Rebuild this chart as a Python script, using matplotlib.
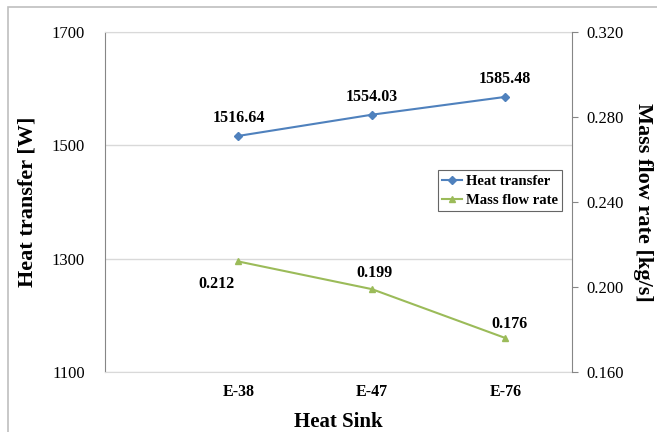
import numpy as np
import matplotlib.pyplot as plt
from matplotlib.patches import Rectangle

sinks = ['E-38', 'E-47', 'E-76']
heat = [1516.64, 1554.03, 1585.48]
mass = [0.212, 0.199, 0.176]
heat_labels = ['1516.64', '1554.03', '1585.48']
mass_labels = ['0.212', '0.199', '0.176']

plt.rcParams['font.family'] = 'Liberation Serif'

fig = plt.figure(figsize=(6.57, 4.32), dpi=100)
fig.patches.append(Rectangle((8/657, -0.1), 2, 1 - 7/432 + 0.1, transform=fig.transFigure,
                             fill=False, edgecolor='#bfbfbf', lw=1.2))
ax = fig.add_axes([105/657, 60/432, 467/657, 340/432])
ax2 = ax.twinx()

x = np.arange(1, len(sinks) + 1)

blue = '#4F81BD'
green = '#9BBB59'
l1, = ax.plot(x, heat, color=blue, marker='D', markersize=4, lw=1.5, label='Heat transfer')
l2, = ax2.plot(x, mass, color=green, marker='^', markersize=5, lw=1.5, label='Mass flow rate')

ax.set_xlim(0, 3.5)
ax.set_ylim(1100, 1700)
ax.set_yticks([1100, 1300, 1500, 1700])
ax2.set_ylim(0.16, 0.32)
ax2.set_yticks([0.16, 0.20, 0.24, 0.28, 0.32])
ax2.set_yticklabels(['0.160', '0.200', '0.240', '0.280', '0.320'])

ax.set_xticks(x)
ax.set_xticklabels(sinks, fontweight='bold', fontsize=11.5)
ax.tick_params(axis='x', length=0, pad=8.5)
ax.tick_params(axis='y', length=0, labelsize=12, pad=14.5)
ax2.tick_params(axis='y', length=4, color='#868686', labelsize=12, pad=6)

ax.grid(axis='y', color='#d9d9d9', lw=1)
for s in ['top', 'bottom']:
    ax.spines[s].set_color('#d9d9d9')
    ax2.spines[s].set_visible(False)
ax.spines['left'].set_color('#868686')
ax.spines['right'].set_visible(False)
ax2.spines['left'].set_visible(False)
ax2.spines['right'].set_color('#868686')

ax.set_xlabel('Heat Sink', fontweight='bold', fontsize=15)
ax.xaxis.set_label_coords(0.5, -0.118)
ax.set_ylabel('Heat transfer [W]', fontweight='bold', fontsize=16, va='center')
ax.yaxis.set_label_coords(-0.165, 0.5)
ax2.set_ylabel('Mass flow rate [kg/s]', fontweight='bold', fontsize=16, rotation=270, va='center')
ax2.yaxis.set_label_coords(1.153, 0.5)

for xi, v, t in zip(x, heat, heat_labels):
    ax.annotate(t, (xi, v), xytext=(0, 10), textcoords='offset points',
                ha='center', fontsize=11.5, fontweight='bold')
offs = [(-16, -19), (2, 9), (3, 7.5)]
for xi, v, t, o in zip(x, mass, mass_labels, offs):
    ax2.annotate(t, (xi, v), xytext=o, textcoords='offset points',
                 ha='center', fontsize=11.5, fontweight='bold')

leg = ax2.legend(handles=[l1, l2], loc='upper left', bbox_to_anchor=(0.712, 0.594),
                 prop={'weight': 'bold', 'size': 10.5}, fancybox=False, edgecolor='#404040',
                 handlelength=1.4, handletextpad=0.25, borderpad=0.3, labelspacing=0.4,
                 borderaxespad=0)
leg.get_frame().set_linewidth(0.8)

fig.savefig('out.png', dpi=100)
